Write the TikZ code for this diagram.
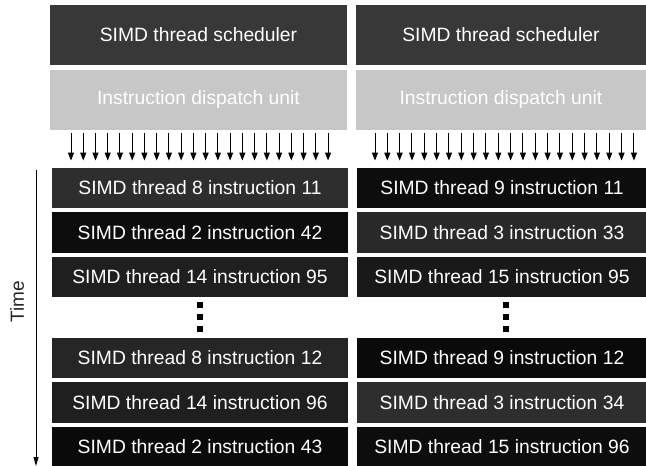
\documentclass[tikz,border=0pt]{standalone}
\usepackage{fontspec}
\setmainfont{Liberation Sans}
\usetikzlibrary{arrows.meta}
\begin{document}
\begin{tikzpicture}[x=1pt,y=-1pt,
  box/.style={rectangle,inner sep=0pt,text=white,font=\fontsize{19.3}{22}\selectfont},
  sched/.style={box,fill=black!78,minimum height=60pt},
  disp/.style={box,fill=black!22,text=white,minimum height=60pt},
  lrow/.style={box,minimum width=296pt,minimum height=40.5pt},
  rrow/.style={box,minimum width=290pt,minimum height=40.5pt},
  dotsq/.style={rectangle,fill=black,inner sep=0pt,minimum size=6pt},
  feed/.style={-{Triangle[length=8pt,width=6pt]},line width=1pt,shorten <=3pt,shorten >=7pt},
  timeax/.style={-{Triangle[length=9pt,width=5pt]},line width=0.8pt}
]
\useasboundingbox (0,0) rectangle (646,466);
% schedulers
\node[sched,minimum width=297pt] (ls) at (198.5,35) {SIMD thread scheduler};
\node[sched,minimum width=290pt] (rs) at (501,35) {SIMD thread scheduler};
% dispatch units
\node[disp,minimum width=297pt] (ld) at (198.5,100) {Instruction dispatch unit};
\node[disp,minimum width=290pt] (rd) at (501,100) {Instruction dispatch unit};
% left rows
\node[lrow,fill=black!82] (l1) at (200,188) {SIMD thread 8 instruction 11};
\node[lrow,fill=black!95] (l2) at (200,232.5) {SIMD thread 2 instruction 42};
\node[lrow,fill=black!88] (l3) at (200,277) {SIMD thread 14 instruction 95};
\node[lrow,fill=black!85] (l4) at (200,358) {SIMD thread 8 instruction 12};
\node[lrow,fill=black!88] (l5) at (200,402.5) {SIMD thread 14 instruction 96};
\node[lrow,fill=black!96] (l6) at (200,447) {SIMD thread 2 instruction 43};
% right rows
\node[rrow,fill=black!95] (r1) at (502,188) {SIMD thread 9 instruction 11};
\node[rrow,fill=black!84] (r2) at (502,232.5) {SIMD thread 3 instruction 33};
\node[rrow,fill=black!90] (r3) at (502,277) {SIMD thread 15 instruction 95};
\node[rrow,fill=black!96] (r4) at (502,358) {SIMD thread 9 instruction 12};
\node[rrow,fill=black!82] (r5) at (502,402.5) {SIMD thread 3 instruction 34};
\node[rrow,fill=black!95] (r6) at (502,447) {SIMD thread 15 instruction 96};
% dots
\foreach \y [count=\i] in {305,317,329} {
  \node[dotsq] (ldot\i) at (200,\y) {};
  \node[dotsq] (rdot\i) at (506,\y) {};
}
% feed arrows
\foreach \k in {0,...,21} {
  \draw[feed] ([xshift={71+\k*12.24-198.5}]ld.south) -- ([xshift={71+\k*12.24-200}]l1.north);
}
\foreach \k in {0,...,21} {
  \draw[feed] ([xshift={375+\k*12.33-501}]rd.south) -- ([xshift={375+\k*12.33-502}]r1.north);
}
% time axis
\coordinate (tTop) at (36,170);
\coordinate (tBot) at (36,466);
\draw[timeax] (tTop) -- (tBot);
\node[rotate=90,font=\fontsize{19}{22}\selectfont,text=black!85] (time) at (17,302) {Time};
\end{tikzpicture}
\end{document}
